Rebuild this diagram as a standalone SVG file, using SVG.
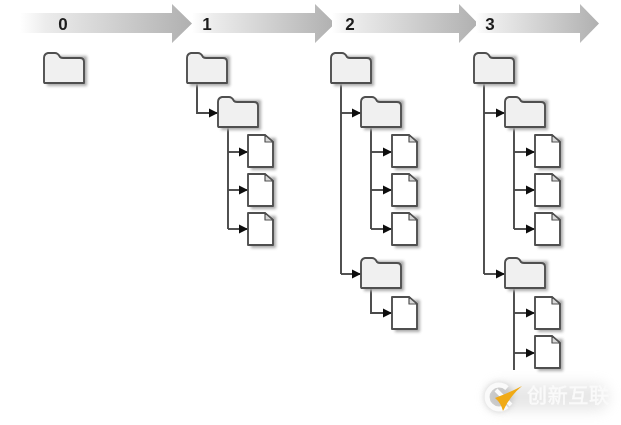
<svg xmlns="http://www.w3.org/2000/svg" width="621" height="425" viewBox="0 0 621 425">
<style>
.lbl{font-family:"Liberation Sans",Arial,sans-serif;font-weight:bold;font-size:17px;fill:#1c1c1c;text-anchor:middle}
.cn{fill:none;stroke:#484848;stroke-width:1.9}
.shape{stroke:#505050;stroke-width:1.9;stroke-linejoin:round}
.folder{fill:#f0f0f0}
.file{fill:#fff}
.shadow{fill:#aaa;filter:url(#b2)}
</style>
<defs>
<filter id="b" x="-10%" y="-10%" width="120%" height="120%"><feGaussianBlur stdDeviation="0.6"/></filter>
<filter id="b2" x="-20%" y="-20%" width="140%" height="140%"><feGaussianBlur stdDeviation="1.4"/></filter>
<filter id="b6" x="-30%" y="-60%" width="160%" height="220%"><feGaussianBlur stdDeviation="7"/></filter>
<filter id="b3" x="-50%" y="-50%" width="200%" height="200%"><feGaussianBlur stdDeviation="3"/></filter>
<filter id="b1" x="-20%" y="-20%" width="140%" height="140%"><feGaussianBlur stdDeviation="0.7"/></filter>
<linearGradient id="g" x1="0" x2="1" y1="0" y2="0"><stop offset="0" stop-color="#fff"/><stop offset=".15" stop-color="#ececec"/><stop offset="1" stop-color="#b0b0b0"/></linearGradient>
<marker id="a" markerUnits="userSpaceOnUse" markerWidth="11" markerHeight="11" refX="9" refY="5" orient="auto"><path d="M0 0.500L9 5L0 9.500z" fill="#111"/></marker>
<g id="folder"><path class="shadow" d="M3 3H43V33H3z"/><path class="shape folder" d="M0 29V5Q0 1 4 0H11Q14 0 16 4Q17 5 19 5H36Q40 5 40 9V30H1Q0 30 0 29z"/></g>
<g id="file"><path class="shadow" d="M3 3H28V35H3z"/><path class="shape file" d="M0 0H17L25 7V32H0z"/><path d="M17 0V7H25z" fill="#d8d8d8" stroke="#505050" stroke-width="1.2" stroke-linejoin="round"/></g>
</defs>
<rect width="621" height="425" fill="#fff"/>
<g filter="url(#b)">
<g id="step-arrows">
<path fill="url(#g)" d="M20 13H172V4L192 23.500L172 43V33H20z"/>
<path fill="url(#g)" d="M192 13H315V4L335 23.500L315 43V33H192z"/>
<path fill="url(#g)" d="M332 13H459V4L478 23.500L459 43V33H332z"/>
<path fill="url(#g)" d="M476 13H580V4L599 23.500L580 43V33H476z"/>
</g>
<g id="labels">
<text class="lbl" x="63" y="30">0</text>
<text class="lbl" x="207" y="30">1</text>
<text class="lbl" x="350" y="30">2</text>
<text class="lbl" x="490" y="30">3</text>
</g>
<g id="connectors">
<path class="cn" d="M197 83V113H218" marker-end="url(#a)"/>
<path class="cn" d="M228 126V229"/>
<path class="cn" d="M228 152H248" marker-end="url(#a)"/>
<path class="cn" d="M228 190H248" marker-end="url(#a)"/>
<path class="cn" d="M228 229H248" marker-end="url(#a)"/>
<path class="cn" d="M341 83V274"/>
<path class="cn" d="M341 113H361" marker-end="url(#a)"/>
<path class="cn" d="M341 274H361" marker-end="url(#a)"/>
<path class="cn" d="M371 126V229"/>
<path class="cn" d="M371 152H392" marker-end="url(#a)"/>
<path class="cn" d="M371 190H392" marker-end="url(#a)"/>
<path class="cn" d="M371 229H392" marker-end="url(#a)"/>
<path class="cn" d="M371 288V313H392" marker-end="url(#a)"/>
<path class="cn" d="M484 83V274"/>
<path class="cn" d="M484 113H505" marker-end="url(#a)"/>
<path class="cn" d="M484 274H505" marker-end="url(#a)"/>
<path class="cn" d="M514 126V229"/>
<path class="cn" d="M514 152H535" marker-end="url(#a)"/>
<path class="cn" d="M514 190H535" marker-end="url(#a)"/>
<path class="cn" d="M514 229H535" marker-end="url(#a)"/>
<path class="cn" d="M514 288V370"/>
<path class="cn" d="M514 313H535" marker-end="url(#a)"/>
<path class="cn" d="M514 353H535" marker-end="url(#a)"/>
</g>
<g id="folder-0"><use href="#folder" x="44" y="53"/></g>
<g id="folder-1"><use href="#folder" x="187" y="53"/></g>
<g id="folder-1a"><use href="#folder" x="218" y="97"/></g>
<g id="file-1a"><use href="#file" x="248" y="135"/></g>
<g id="file-1b"><use href="#file" x="248" y="174"/></g>
<g id="file-1c"><use href="#file" x="248" y="213"/></g>
<g id="folder-2"><use href="#folder" x="331" y="53"/></g>
<g id="folder-2a"><use href="#folder" x="361" y="97"/></g>
<g id="file-2a"><use href="#file" x="392" y="135"/></g>
<g id="file-2b"><use href="#file" x="392" y="174"/></g>
<g id="file-2c"><use href="#file" x="392" y="213"/></g>
<g id="folder-2d"><use href="#folder" x="361" y="258"/></g>
<g id="file-2d"><use href="#file" x="392" y="297"/></g>
<g id="folder-3"><use href="#folder" x="474" y="53"/></g>
<g id="folder-3a"><use href="#folder" x="505" y="97"/></g>
<g id="file-3a"><use href="#file" x="535" y="135"/></g>
<g id="file-3b"><use href="#file" x="535" y="174"/></g>
<g id="file-3c"><use href="#file" x="535" y="213"/></g>
<g id="folder-3d"><use href="#folder" x="505" y="258"/></g>
<g id="file-3d"><use href="#file" x="535" y="297"/></g>
<g id="file-3e"><use href="#file" x="535" y="336"/></g>
</g>
<g id="watermark">
<rect x="488" y="384" width="120" height="26" rx="12" fill="#bbb" opacity=".35" filter="url(#b6)"/>
<circle cx="499" cy="397" r="14" fill="#aaa" opacity=".55" filter="url(#b3)"/>
<g filter="url(#b1)">
<path d="M507 388A12 12 0 1 0 507 406" fill="none" stroke="#fafafa" stroke-width="5"/>
<path d="M496 390L511 405" stroke="#fafafa" stroke-width="4"/>
<path d="M495 398Q509 393 522 386Q510 396 503 411Q501 403 495 398z" fill="#f0aa14"/>
<text x="527" y="403" font-family="'Noto Sans CJK SC',sans-serif" font-size="20" fill="#fafafa" stroke="#fafafa" stroke-width=".4" textLength="82">创新互联</text>
</g>
</g>
</svg>
